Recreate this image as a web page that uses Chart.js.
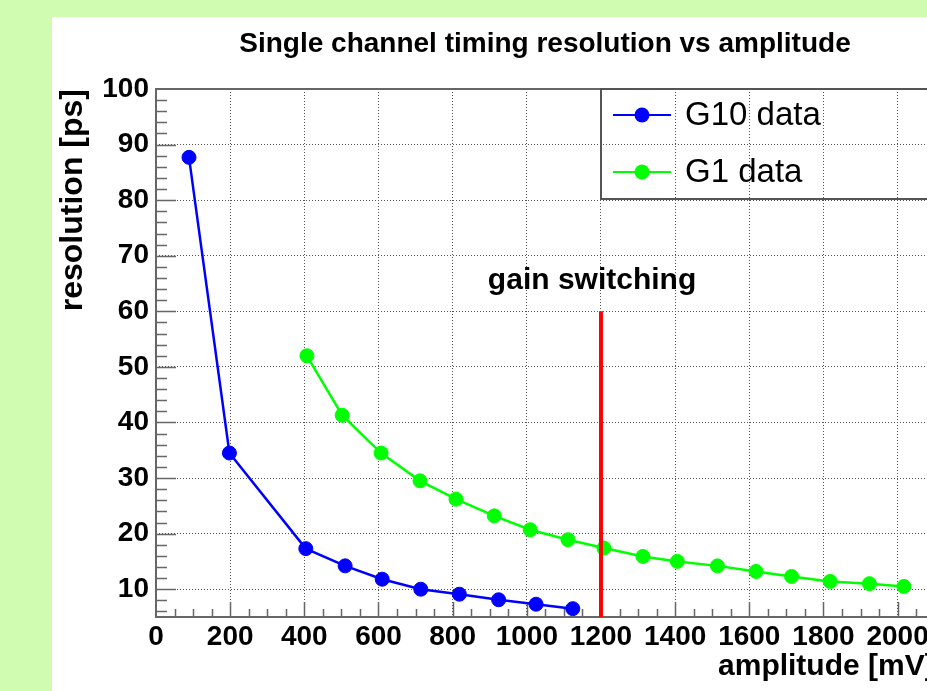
<!DOCTYPE html>
<html><head><meta charset="utf-8">
<script src="https://cdn.jsdelivr.net/npm/chart.js@4/dist/chart.umd.min.js"></script>
<style>
html,body{margin:0;padding:0;overflow:hidden;background:#d0fcb2;width:927px;height:691px}
#wrap{position:absolute;left:52px;top:17px;width:990px;height:674px;background:#ffffff}
canvas{display:block}
</style></head><body>
<div id="wrap"><canvas id="c" width="990" height="674"></canvas></div>
<script>
const TITLE = 'Single channel timing resolution vs amplitude';
const X_TITLE = 'amplitude [mV]';
const Y_TITLE = 'resolution [ps]';
const G10_LABEL = 'G10 data';
const G1_LABEL = 'G1 data';
const SWITCH_LABEL = 'gain switching';

const g10Amp = [89, 198, 404, 510, 610, 714, 818, 924, 1025, 1124];
const g10Res = [87.7, 34.5, 17.3, 14.2, 11.8, 10.0, 9.1, 8.1, 7.3, 6.5];
const g1Amp = [407, 502, 607, 712, 809, 912, 1009, 1111, 1208, 1313, 1406, 1514, 1618, 1714, 1818, 1924, 2017];
const g1Res = [52.0, 41.3, 34.5, 29.5, 26.2, 23.2, 20.7, 18.9, 17.4, 15.9, 15.0, 14.2, 13.2, 12.3, 11.4, 11.0, 10.5];
const switchAmp = [1200, 1200];
const switchRes = [60, 5];
const switchLabelPos = [895, 64];

const xTickLabels = [0, 200, 400, 600, 800, 1000, 1200, 1400, 1600, 1800, 2000];
const yTickLabels = [10, 20, 30, 40, 50, 60, 70, 80, 90, 100];
const xRange = [0, 2100];
const yRange = [5, 100];

const pts = (xs, ys) => xs.map((x, i) => ({x: x, y: ys[i]}));

const AXIS_COLOR = '#666666';
const FAMILY = '"Liberation Sans", Arial, Helvetica, sans-serif';

const rootPlugin = {
  id: 'rootStyle',
  beforeDatasetsDraw(chart) {
    const {ctx, chartArea: a, scales: {x, y}} = chart;
    ctx.save();
    ctx.strokeStyle = AXIS_COLOR;
    ctx.lineWidth = 1.5;
    ctx.beginPath();
    for (let v = 6; v < yRange[1]; v += 2) {
      const py = Math.round(y.getPixelForValue(v)) + 0.5;
      const len = (v % 10 === 0) ? 20 : 11;
      ctx.moveTo(a.left, py); ctx.lineTo(a.left + len, py);
    }
    for (let v = 50; v < xRange[1]; v += 50) {
      const px = Math.round(x.getPixelForValue(v)) + 0.5;
      const len = (v % 200 === 0) ? 15 : 8;
      ctx.moveTo(px, a.bottom); ctx.lineTo(px, a.bottom - len);
    }
    ctx.stroke();
    ctx.lineWidth = 2;
    ctx.strokeRect(a.left, a.top, a.right - a.left, a.bottom - a.top);
    ctx.restore();
  },
  afterDraw(chart) {
    const {ctx, chartArea: a, scales: {x, y}} = chart;
    ctx.save();
    // title
    ctx.fillStyle = '#000';
    ctx.font = 'bold 28px ' + FAMILY;
    ctx.textAlign = 'center';
    ctx.textBaseline = 'middle';
    ctx.fillText(TITLE, 493, 27);
    // annotation text
    ctx.font = 'bold 30px ' + FAMILY;
    ctx.textAlign = 'left';
    ctx.textBaseline = 'alphabetic';
    ctx.fillText(SWITCH_LABEL, x.getPixelForValue(switchLabelPos[0]), y.getPixelForValue(switchLabelPos[1]));
    // legend
    const L = 549, T = a.top, B = 182, R = a.right + 2;
    ctx.strokeStyle = '#555';
    ctx.lineWidth = 2;
    ctx.strokeRect(L, T, R - L, B - T);
    const entries = chart.data.datasets.filter(d => d.inLegend);
    const rowY = [98, 155];
    entries.forEach((d, i) => {
      const yy = rowY[i];
      ctx.strokeStyle = d.borderColor;
      ctx.lineWidth = 2;
      ctx.beginPath(); ctx.moveTo(561, yy); ctx.lineTo(619, yy); ctx.stroke();
      ctx.fillStyle = d.borderColor;
      ctx.beginPath(); ctx.arc(590, yy, 7.5, 0, Math.PI * 2); ctx.fill();
      ctx.fillStyle = '#000';
      ctx.font = '33px ' + FAMILY;
      ctx.textAlign = 'left';
      ctx.textBaseline = 'middle';
      ctx.fillText(d.label, 633, yy + 1);
    });
    ctx.restore();
  }
};

const tickFont = {family: FAMILY, weight: 'bold', size: 28};

new Chart(document.getElementById('c').getContext('2d'), {
  type: 'line',
  data: {
    datasets: [
      {label: 'switch', data: pts(switchAmp, switchRes), borderColor: '#ff0000', borderWidth: 4,
       pointRadius: 0, order: 0, inLegend: false},
      {label: G10_LABEL, data: pts(g10Amp, g10Res), borderColor: '#0000ff', backgroundColor: '#0000ff',
       borderWidth: 2.5, pointRadius: 7, pointBorderWidth: 1, order: 1, inLegend: true},
      {label: G1_LABEL, data: pts(g1Amp, g1Res), borderColor: '#00ff00', backgroundColor: '#00ff00',
       borderWidth: 2.5, pointRadius: 7, pointBorderWidth: 1, order: 2, inLegend: true}
    ]
  },
  options: {
    responsive: false,
    animation: false,
    devicePixelRatio: 1,
    layout: {padding: {top: 72, right: 107.3, left: 0, bottom: 0}},
    plugins: {legend: {display: false}, tooltip: {enabled: false}, title: {display: false}},
    scales: {
      x: {
        type: 'linear', min: xRange[0], max: xRange[1],
        afterBuildTicks: s => { s.ticks = xTickLabels.map(v => ({value: v})); },
        afterFit: s => { s.height = 74; },
        grid: {color: '#555', lineWidth: 1, drawTicks: false},
        border: {display: false, dash: [1, 2]},
        ticks: {padding: 3, color: '#000', font: tickFont, maxRotation: 0, autoSkip: false,
                callback: v => String(v)},
        title: {display: true, text: X_TITLE, align: 'end', color: '#000',
                font: {family: FAMILY, weight: 'bold', size: 30, lineHeight: 1.2}, padding: {top: 0, bottom: 6}}
      },
      y: {
        type: 'linear', min: yRange[0], max: yRange[1],
        afterBuildTicks: s => { s.ticks = yTickLabels.map(v => ({value: v})); },
        afterFit: s => { s.width = 104; },
        grid: {color: '#555', lineWidth: 1, drawTicks: false},
        border: {display: false, dash: [1, 2]},
        ticks: {padding: 7, color: '#000', font: tickFont, autoSkip: false, callback: v => String(v)},
        title: {display: true, text: Y_TITLE, align: 'end', color: '#000',
                font: {family: FAMILY, weight: 'bold', size: 32, lineHeight: 1.2}, padding: {top: 2, bottom: 0}}
      }
    }
  },
  plugins: [rootPlugin]
});
</script>
</body></html>
